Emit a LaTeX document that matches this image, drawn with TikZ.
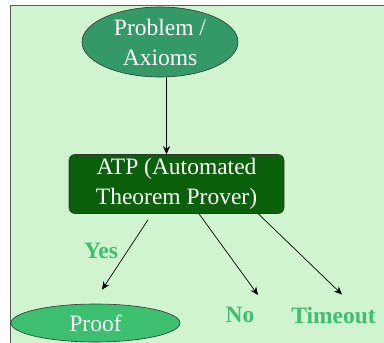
\documentclass[tikz,border=0pt]{standalone}
\usepackage{fontspec}
\setmainfont{Liberation Serif}
\usepackage{tikz}
\usetikzlibrary{arrows.meta,shapes.geometric}

\definecolor{paneBg}{HTML}{D0F3D0}
\definecolor{inputGreen}{HTML}{339966}
\definecolor{proverGreen}{HTML}{0B600B}
\definecolor{resultGreen}{HTML}{3CC070}

\begin{document}
\begin{tikzpicture}[
    x=1pt, y=-1pt,
    >={Stealth[length=8pt,width=7pt]},
    every node/.style={font=\fontsize{23.5}{30}\selectfont},
    flow/.style={->, line width=0.7pt},
    blob/.style={ellipse, draw=black!80, line width=0.6pt, text=white, inner sep=0pt, align=center},
    prover/.style={draw=black!80, line width=0.6pt, fill=proverGreen, text=white, rounded corners=6pt, align=center, minimum width=215pt, minimum height=59pt, inner sep=0pt},
    outcome/.style={text=resultGreen, font=\fontsize{23.5}{30}\selectfont\bfseries, inner sep=0pt}
]
\useasboundingbox (0,0) rectangle (384,343);
\fill[paneBg] (10,5) rectangle (384,343);
\draw[black!65, line width=0.8pt] (10,343) -- (10,5) -- (384,5);

\node[blob, fill=inputGreen, minimum width=156pt, minimum height=70pt] (problem) at (160,42) {Problem /\\Axioms};
\node[prover] (atp) at (176.5,184) {ATP (Automated\\Theorem Prover)};
\node[blob, fill=resultGreen, minimum width=169pt, minimum height=38pt] (proof) at (95.5,323) {Proof};
\node[outcome] (no) at (240,315) {No};
\node[outcome] (timeout) at (333.5,315) {Timeout};
\node[outcome] (yes) at (101,251) {Yes};

\draw[flow] (problem.south -| 166.5,0) -- (atp.north -| 166.5,0);
\draw[flow] ([xshift=-28.5pt,yshift=-6pt]atp.south) -- ([xshift=6.5pt,yshift=14pt]proof.north);
\draw[flow] ([xshift=22.5pt]atp.south) -- ([xshift=18pt,yshift=12pt]no.north);
\draw[flow] ([xshift=-26pt]atp.south east) -- ([xshift=8.5pt,yshift=12pt]timeout.north);
\end{tikzpicture}
\end{document}
